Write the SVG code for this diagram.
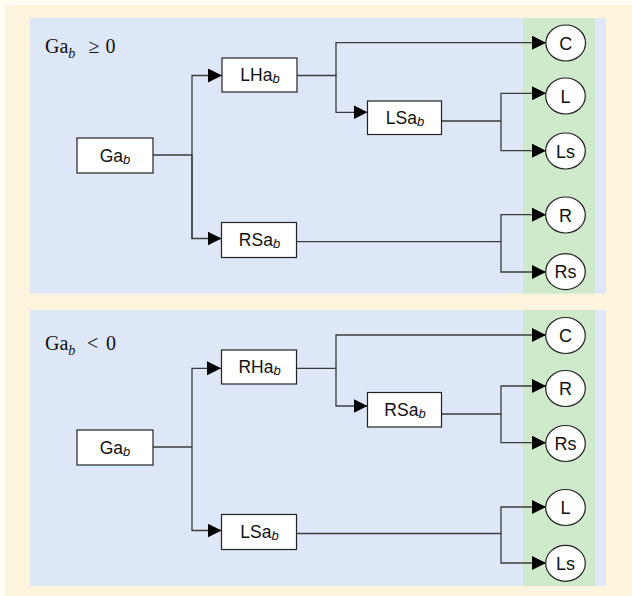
<svg xmlns="http://www.w3.org/2000/svg" width="632" height="596" viewBox="0 0 632 596">
<defs>
<style>
.bg{fill:#fdf4de}
.panel{fill:#dee7f7}
.band{fill:#cfeacb}
.box{fill:#ffffff;stroke:#222;stroke-width:1.2}
.circ{fill:#ffffff;stroke:#222;stroke-width:1.2}
.lbl{font-family:"Liberation Sans",Arial,sans-serif;font-size:17.5px;fill:#111;text-anchor:middle}
.sub{font-style:italic;font-size:13px}
.ctxt{font-family:"Liberation Sans",Arial,sans-serif;font-size:18px;fill:#111;text-anchor:middle}
.title{font-family:"Liberation Serif","Times New Roman",serif;font-size:20px;fill:#111}
.tsub{font-style:italic;font-size:14px}
.conn path{fill:none;stroke:#3c3c3c;stroke-width:1.3}
</style>
<marker id="arr" markerUnits="userSpaceOnUse" markerWidth="15" markerHeight="14" refX="14" refY="7" orient="auto">
<path d="M0,0 L14,7 L0,14 z" fill="#000"/>
</marker>
</defs>
<rect x="0" y="0" width="632" height="596" fill="#fffcf4"/>
<rect class="bg" x="5" y="5" width="627" height="591"/>
<g id="panel-top">
<rect class="panel" x="30" y="18" width="576" height="275.5"/>
<rect class="band" x="523" y="18" width="72" height="275.5"/>
<text class="title" x="45" y="52.7">Ga<tspan class="tsub" dy="5">b</tspan><tspan x="88.5" dy="-5">≥</tspan><tspan x="105.5">0</tspan></text>
</g>
<g id="panel-bottom">
<rect class="panel" x="30" y="310" width="576" height="276"/>
<rect class="band" x="523" y="310" width="72" height="276"/>
<text class="title" x="45" y="350">Ga<tspan class="tsub" dy="5">b</tspan><tspan x="87" dy="-5">&lt;</tspan><tspan x="106">0</tspan></text>
</g>
<g id="connectors" class="conn">
<path d="M153,155 H192"/>
<path d="M192,239 V75.5 H222" marker-end="url(#arr)"/>
<path d="M192,155 V238.5 H221.5" marker-end="url(#arr)"/>
<path d="M297,75.5 H336 V112.3 H367.5" marker-end="url(#arr)"/>
<path d="M336,75.5 V42.7 H546" marker-end="url(#arr)"/>
<path d="M441.5,121 H501 V93.3 H546" marker-end="url(#arr)"/>
<path d="M501,121 V150.7 H546" marker-end="url(#arr)"/>
<path d="M296.5,241.7 H501 V214.7 H546" marker-end="url(#arr)"/>
<path d="M501,241.7 V272 H546" marker-end="url(#arr)"/>
<path d="M153,447 H192"/>
<path d="M192,447 V368.3 H221" marker-end="url(#arr)"/>
<path d="M192,447 V530.5 H221.5" marker-end="url(#arr)"/>
<path d="M296.5,368.3 H336 V406 H367.5" marker-end="url(#arr)"/>
<path d="M336,368.3 V335 H546" marker-end="url(#arr)"/>
<path d="M441.5,414 H501 V386 H546" marker-end="url(#arr)"/>
<path d="M501,414 V442.7 H546" marker-end="url(#arr)"/>
<path d="M296.5,533.5 H501 V507 H546" marker-end="url(#arr)"/>
<path d="M501,533.5 V563 H546" marker-end="url(#arr)"/>
</g>
<g id="t-Ga"><rect class="box" x="77" y="138" width="76" height="35"/><text class="lbl" x="115" y="161.5">Ga<tspan class="sub" dy="2">b</tspan></text></g>
<g id="t-LHa"><rect class="box" x="222" y="58" width="75" height="34"/><text class="lbl" x="260" y="81">LHa<tspan class="sub" dy="2">b</tspan></text></g>
<g id="t-LSa"><rect class="box" x="367.5" y="101" width="74" height="33.5"/><text class="lbl" x="405" y="123.5">LSa<tspan class="sub" dy="2">b</tspan></text></g>
<g id="t-RSa"><rect class="box" x="221.5" y="222.5" width="75" height="35"/><text class="lbl" x="259.5" y="246">RSa<tspan class="sub" dy="2">b</tspan></text></g>
<g id="t-C"><ellipse class="circ" cx="565.7" cy="43" rx="19.8" ry="18"/><text class="ctxt" x="565.7" y="49.5">C</text></g>
<g id="t-L"><ellipse class="circ" cx="565.5" cy="96" rx="19.8" ry="18"/><text class="ctxt" x="565.5" y="102.5">L</text></g>
<g id="t-Ls"><ellipse class="circ" cx="565.5" cy="151" rx="19.8" ry="18"/><text class="ctxt" x="565.5" y="157.5">Ls</text></g>
<g id="t-R"><ellipse class="circ" cx="565.5" cy="215" rx="19.8" ry="18"/><text class="ctxt" x="565.5" y="221.5">R</text></g>
<g id="t-Rs"><ellipse class="circ" cx="565.5" cy="271.7" rx="19.8" ry="18"/><text class="ctxt" x="565.5" y="278.2">Rs</text></g>
<g id="b-Ga"><rect class="box" x="77" y="430" width="76" height="35"/><text class="lbl" x="115" y="453.5">Ga<tspan class="sub" dy="2">b</tspan></text></g>
<g id="b-RHa"><rect class="box" x="221.5" y="350" width="75" height="34"/><text class="lbl" x="259.5" y="373">RHa<tspan class="sub" dy="2">b</tspan></text></g>
<g id="b-RSa"><rect class="box" x="367.5" y="392.5" width="74" height="34.5"/><text class="lbl" x="405" y="415.5">RSa<tspan class="sub" dy="2">b</tspan></text></g>
<g id="b-LSa"><rect class="box" x="221.5" y="514.5" width="75" height="35"/><text class="lbl" x="259.5" y="538">LSa<tspan class="sub" dy="2">b</tspan></text></g>
<g id="b-C"><ellipse class="circ" cx="565.5" cy="335.5" rx="19.8" ry="18"/><text class="ctxt" x="565.5" y="342">C</text></g>
<g id="b-R"><ellipse class="circ" cx="565.5" cy="388.5" rx="19.8" ry="18"/><text class="ctxt" x="565.5" y="395">R</text></g>
<g id="b-Rs"><ellipse class="circ" cx="565.5" cy="443.5" rx="19.8" ry="18"/><text class="ctxt" x="565.5" y="450">Rs</text></g>
<g id="b-L"><ellipse class="circ" cx="565.5" cy="507.5" rx="19.8" ry="18"/><text class="ctxt" x="565.5" y="514">L</text></g>
<g id="b-Ls"><ellipse class="circ" cx="565.5" cy="563.3" rx="19.8" ry="18"/><text class="ctxt" x="565.5" y="569.8">Ls</text></g>
</svg>
